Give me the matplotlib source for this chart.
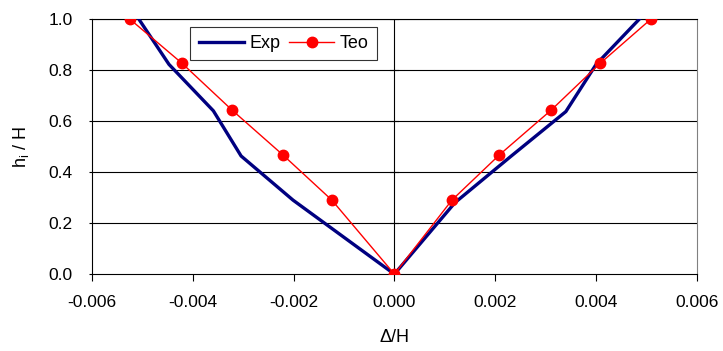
import matplotlib

matplotlib.use("Agg")
import matplotlib.pyplot as plt

plt.rcParams["font.family"] = ["Liberation Sans", "DejaVu Sans"]

# Exp: curva experimental
exp_x = [-0.00507, -0.00447, -0.00359, -0.00304, -0.00201, 0.0,
         0.0012, 0.0023, 0.0034, 0.0040, 0.00486]
exp_y = [1.0, 0.822, 0.64, 0.463, 0.29, 0.0,
         0.28, 0.46, 0.637, 0.822, 1.0]

# Teo: curva teorica
teo_x = [-0.00525, -0.00421, -0.00322, -0.00221, -0.00124, 0.0,
         0.00114, 0.00208, 0.00311, 0.00408, 0.00509]
teo_y = [1.0, 0.826, 0.643, 0.467, 0.29, 0.0,
         0.29, 0.467, 0.643, 0.826, 1.0]

x_ticks = [-0.006, -0.004, -0.002, 0.0, 0.002, 0.004, 0.006]
y_ticks = [0.0, 0.2, 0.4, 0.6, 0.8, 1.0]

fig = plt.figure(figsize=(7.23, 3.51), dpi=100)
ax = fig.add_axes([0.127, 0.219, 0.837, 0.727])

for y in y_ticks[1:]:
    ax.axhline(y, color="black", lw=0.8, zorder=1)
ax.axvline(0.0, color="black", lw=0.8, zorder=1)
# marcas sobre el eje vertical en x = 0
for y in y_ticks:
    ax.plot([-0.00008, 0.00008], [y, y], color="black", lw=0.8, zorder=1)

ax.plot(exp_x, exp_y, color="#000080", lw=2.4, label="Exp", zorder=3)
ax.plot(teo_x, teo_y, color="#ff0000", lw=1.0, marker="o", markersize=7.5,
        label="Teo", zorder=4)

ax.set_xlim(-0.006, 0.006)
ax.set_ylim(0.0, 1.0)
ax.set_xticks(x_ticks)
ax.set_xticklabels([f"{v:.3f}" for v in x_ticks])
ax.set_yticks(y_ticks)
ax.set_yticklabels([f"{v:.1f}" for v in y_ticks])
ax.tick_params(axis="x", direction="out", length=5, width=0.8, labelsize=12.5, pad=10)
ax.tick_params(axis="y", direction="out", length=2, width=0.8, labelsize=12.5, pad=12)
for side in ["left", "top", "bottom"]:
    ax.spines[side].set_color("black")
    ax.spines[side].set_linewidth(0.8)
ax.spines["right"].set_color("#808080")

ax.set_xlabel("\u0394/H", fontsize=13, labelpad=14)
ax.set_ylabel("h$_\\mathregular{i}$ / H", fontsize=13, labelpad=12)

leg = ax.legend(loc="upper left", bbox_to_anchor=(0.163, 0.968), ncol=2,
                fontsize=13, frameon=True, fancybox=False, edgecolor="black",
                handlelength=2.5, columnspacing=0.5, handletextpad=0.3,
                borderpad=0.45, borderaxespad=0.0)
leg.get_frame().set_linewidth(0.8)

fig.savefig("out.png", dpi=100)
